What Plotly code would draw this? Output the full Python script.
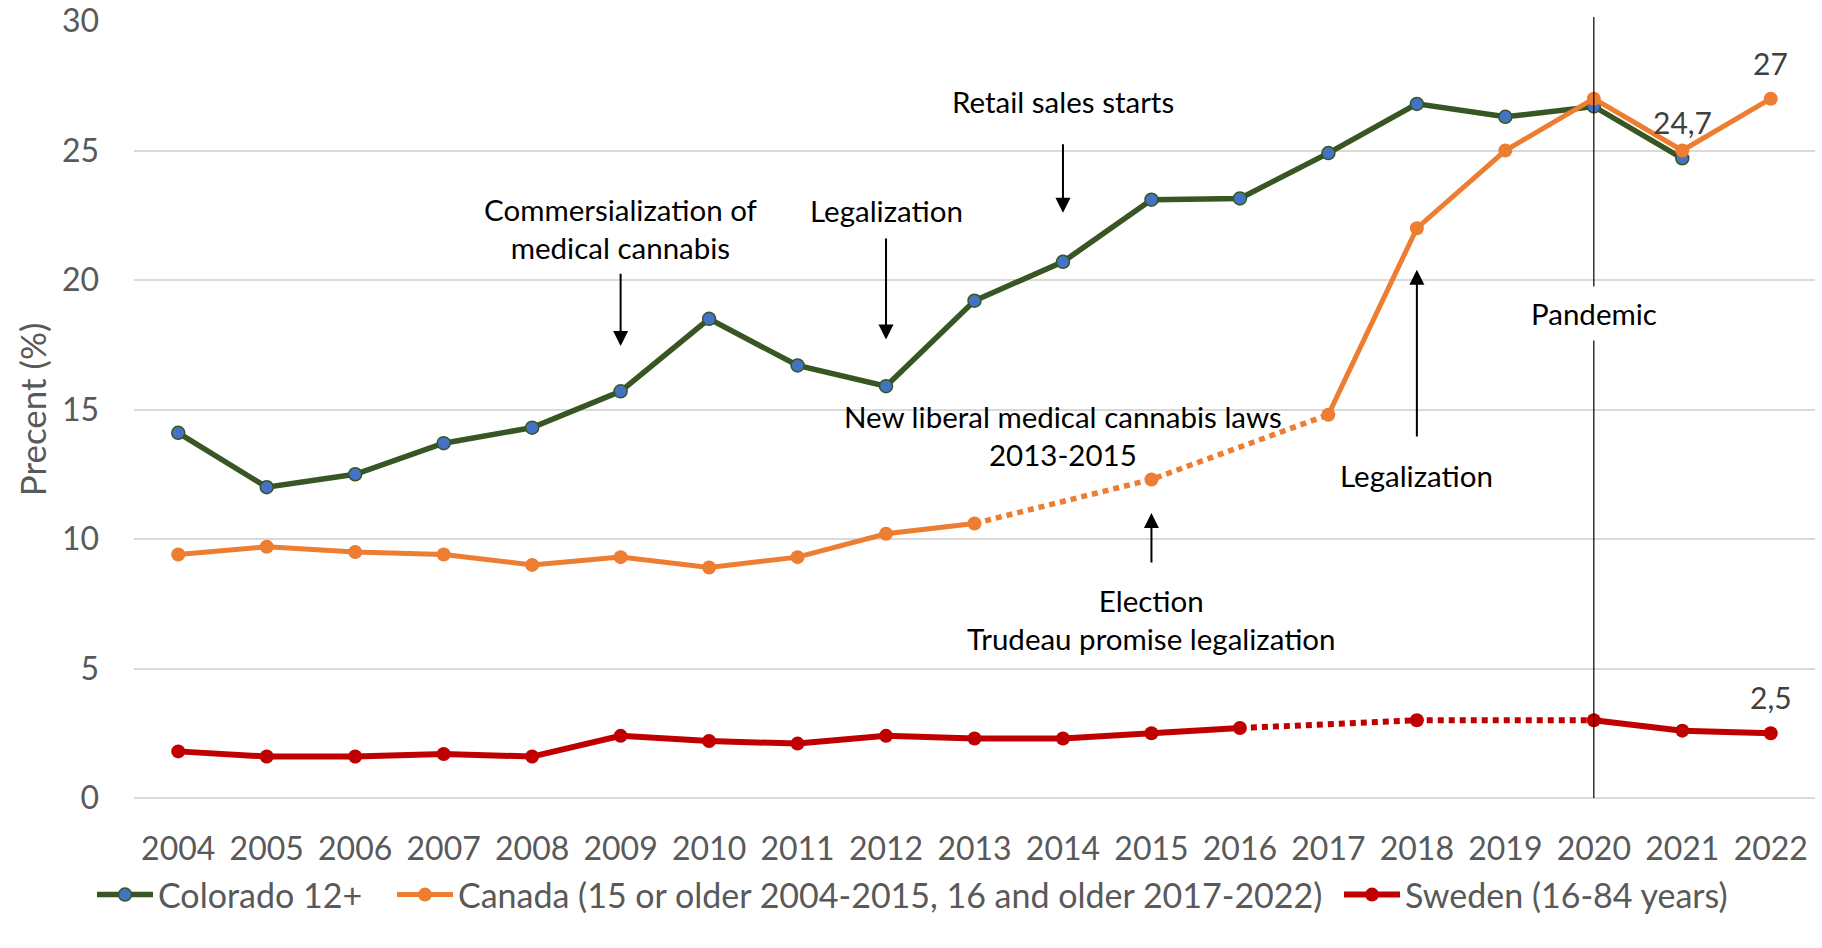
import plotly.graph_objects as go

years = list(range(2004, 2023))
year_labels = [str(y) for y in years]

colorado = [14.1, 12.0, 12.5, 13.7, 14.3, 15.7, 18.5, 16.7, 15.9, 19.2,
            20.7, 23.1, 23.15, 24.9, 26.8, 26.3, 26.7, 24.7, None]
canada = [9.4, 9.7, 9.5, 9.4, 9.0, 9.3, 8.9, 9.3, 10.2, 10.6,
          None, 12.3, None, 14.8, 22.0, 25.0, 27.0, 25.0, 27.0]
sweden = [1.8, 1.6, 1.6, 1.7, 1.6, 2.4, 2.2, 2.1, 2.4, 2.3,
          2.3, 2.5, 2.7, None, 3.0, None, 3.0, 2.6, 2.5]

canada_gap = (2013, 2017)   # dotted (estimated) stretch
sweden_gap = (2016, 2020)

names = ["Colorado 12+",
         "Canada (15 or older 2004-2015, 16 and older 2017-2022)",
         "Sweden (16-84 years)"]

GREEN = "#375623"
BLUE = "#4472C4"
ORANGE = "#ED7D31"
RED = "#C00000"
FONT = "Lato"
GREY = "#595959"
DOT = "6px,5px"
W, H = 1822, 948


def gap_points(vals, lo, hi):
    xs, ys = [], []
    for x, v in zip(years, vals):
        if lo <= x <= hi and v is not None:
            xs.append(x)
            ys.append(v)
    return xs, ys


fig = go.Figure()

fig.add_trace(go.Scatter(
    x=years, y=colorado, name=names[0], mode="lines+markers", legend="legend",
    line=dict(color=GREEN, width=5.5),
    marker=dict(color=BLUE, size=13, line=dict(color=GREEN, width=1.5)),
))

cx, cy = gap_points(canada, *canada_gap)
fig.add_trace(go.Scatter(
    x=cx, y=cy, mode="lines", showlegend=False,
    line=dict(color=ORANGE, width=5.5, dash=DOT),
))
fig.add_trace(go.Scatter(
    x=years, y=canada, name=names[1], mode="lines+markers", legend="legend2",
    line=dict(color=ORANGE, width=5),
    marker=dict(color=ORANGE, size=14),
))

sx, sy = gap_points(sweden, *sweden_gap)
fig.add_trace(go.Scatter(
    x=sx, y=sy, mode="lines", showlegend=False,
    line=dict(color=RED, width=6, dash=DOT),
))
fig.add_trace(go.Scatter(
    x=years, y=sweden, name=names[2], mode="lines+markers", legend="legend3",
    line=dict(color=RED, width=6),
    marker=dict(color=RED, size=14),
))

annotations = []


def txt(x, y, text, size=29.5, color="black", **kw):
    annotations.append(dict(x=x, y=y, xref="x", yref="y", text=text,
                            showarrow=False, font=dict(family=FONT, size=size, color=color),
                            align="center", **kw))


def arrow(x, y_tail, y_head):
    annotations.append(dict(x=x, y=y_head, ax=x, ay=y_tail, xref="x", yref="y",
                            axref="x", ayref="y", text="", showarrow=True,
                            arrowhead=2, arrowsize=1.5, arrowwidth=2, arrowcolor="black",
                            standoff=0, startstandoff=0, font=dict(size=1)))


txt(2009, 22.0, "Commersialization of<br>medical cannabis")
arrow(2009, 20.3, 17.45)
txt(2012, 22.7, "Legalization")
arrow(2012, 21.66, 17.7)
txt(2014, 26.9, "Retail sales starts")
arrow(2014, 25.3, 22.6)
txt(2014, 14.0, "New liberal medical cannabis laws<br>2013-2015")
arrow(2015, 9.03, 11.0)
txt(2015, 6.9, "Election<br>Trudeau promise legalization")
arrow(2018, 13.9, 20.4)
txt(2018, 12.47, "Legalization")
txt(2020, 18.7, "Pandemic", bgcolor="white", borderpad=9)


def fmt(v):
    s = ("%.1f" % v).rstrip("0").rstrip(".")
    return s.replace(".", ",")


for x, v in [(2022, canada[-1]), (2021, colorado[-2]), (2022, sweden[-1])]:
    txt(x, v, fmt(v), size=30, color="#404040", yshift=36)


def legend_at(px_left):
    return dict(orientation="h", xref="container", yref="container",
                x=px_left / W, xanchor="left", y=(H - 895) / H, yanchor="middle",
                font=dict(family=FONT, size=34, color=GREY), itemwidth=56,
                bgcolor="rgba(0,0,0,0)")


fig.update_layout(
    width=W, height=H,
    margin=dict(l=134, r=7, t=21, b=150),
    paper_bgcolor="white", plot_bgcolor="white",
    font=dict(family=FONT, color=GREY),
    annotations=annotations,
    shapes=[dict(type="line", xref="x", yref="paper", x0=2020, x1=2020,
                 y0=0, y1=1.005, line=dict(color="black", width=1.2))],
    showlegend=True,
    legend=legend_at(92),
    legend2=legend_at(392),
    legend3=legend_at(1339),
    xaxis=dict(range=[2003.5, 2022.5], tickvals=years, ticktext=year_labels,
               showgrid=False, zeroline=False, showline=False, automargin=False,
               tickfont=dict(family=FONT, size=32, color=GREY),
               ticks="", ticklabelstandoff=29),
    yaxis=dict(range=[0, 30], tickvals=[0, 5, 10, 15, 20, 25, 30],
               showgrid=True, gridcolor="#D9D9D9", gridwidth=2, automargin=False,
               zeroline=True, zerolinecolor="#D9D9D9", zerolinewidth=2,
               tickfont=dict(family=FONT, size=32, color=GREY),
               ticklabelstandoff=34,
               title=dict(text="Precent (%)", font=dict(family=FONT, size=35, color=GREY),
                          standoff=4)),
)

fig.write_html("out.html", config={"displayModeBar": False},
               post_script="document.body.style.margin='0';document.body.style.overflow='hidden';")
